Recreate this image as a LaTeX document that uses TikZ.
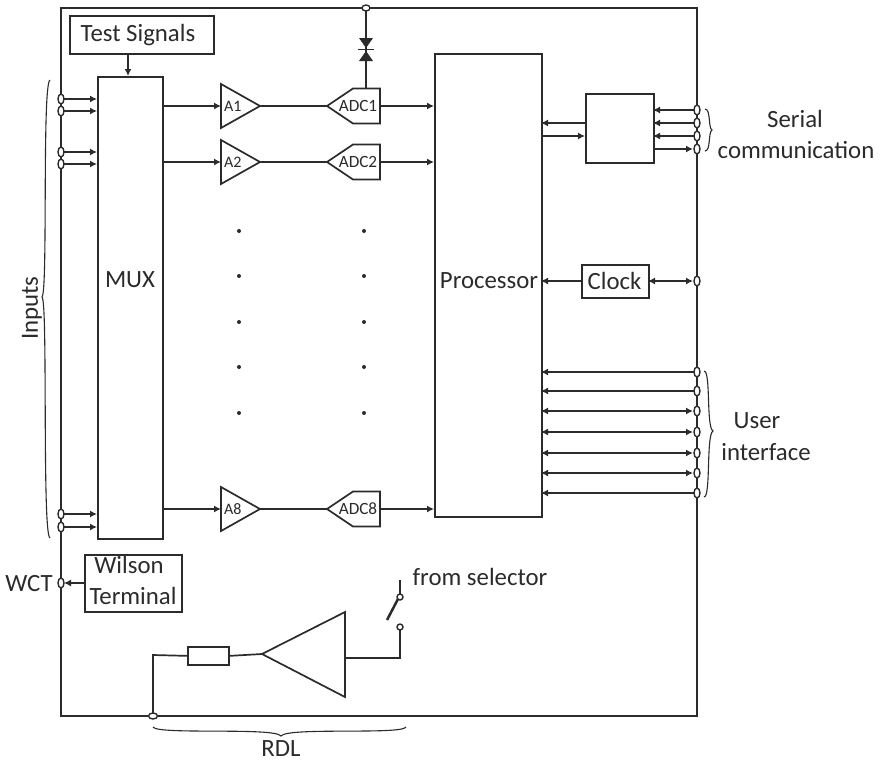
\documentclass[tikz,border=0pt]{standalone}
\usepackage{fontspec}
\setmainfont{Carlito}
\usetikzlibrary{arrows.meta,shapes.geometric}
\definecolor{ink}{HTML}{2B2B2B}
\tikzset{
  x=1pt,y=-1pt,
  wire/.style={draw=ink,line width=1.7pt},
  arr/.style={wire,-{Latex[length=7pt,width=7pt]}},
  darr/.style={wire,{Latex[length=7pt,width=7pt]}-{Latex[length=7pt,width=7pt]}},
  block/.style={draw=ink,line width=1.7pt,fill=white,inner sep=0pt,rectangle},
  term/.style={draw=ink,line width=1.4pt,fill=white,ellipse,inner sep=0pt},
  lbl/.style={text=ink,font=\fontsize{24.8}{30}\selectfont,align=center,inner sep=0pt},
  small/.style={text=ink,font=\fontsize{16}{18}\selectfont,inner sep=0pt},
  adclbl/.style={text=ink,font=\fontsize{17.2}{18}\selectfont,inner sep=0pt},
}
\begin{document}
\begin{tikzpicture}
\useasboundingbox (0,0) rectangle (882,761);
\fill[white] (0,0) rectangle (882,761);
% frame
\coordinate (fTL) at (61,8); \coordinate (fBR) at (697,716);
\draw[wire] (fTL) rectangle (fBR);
% blocks
\node[block,anchor=north west,minimum width=144pt,minimum height=38pt] (test) at (69,15) {};
\node[lbl] at (138,35) {Test Signals};
\node[block,anchor=north west,minimum width=65pt,minimum height=462pt] (mux) at (97,76) {};
\node[lbl] at (130,280) {MUX};
\node[block,anchor=north west,minimum width=107pt,minimum height=463pt] (proc) at (434,53) {};
\node[lbl] at (489,281) {Processor};
\node[block,anchor=north west,minimum width=68pt,minimum height=69pt] (ser) at (585,93) {};
\node[block,anchor=north west,minimum width=67pt,minimum height=33pt] (clock) at (581,264) {};
\node[lbl] at (614.5,280.5) {Clock};
\node[block,anchor=north west,minimum width=97pt,minimum height=57pt] (wil) at (84,554) {};
\node[lbl] at (129,565) {Wilson};
\node[lbl] at (133,596) {Terminal};
\draw[arr] (128,53) -- (128,76);
% channels
\foreach \n/\y in {1/106,2/162,8/509}{
  \draw[arr] (162,\y) -- (221,\y);
  \draw[wire,fill=white] (221,\y-22) -- (260,\y) -- (221,\y+22) -- cycle;
  \node[small,anchor=west] at (224,\y) {A\n};
  \draw[wire] (260,\y) -- (327,\y);
  \draw[wire,fill=white] (327,\y) -- (353,\y-17.5) -- (380,\y-17.5) -- (380,\y+17.5) -- (353,\y+17.5) -- cycle;
  \node[adclbl] at (358,\y) {ADC\n};
  \draw[arr] (380,\y) -- (434,\y);
}
% dots
\foreach \x in {239,364}\foreach \y in {231,276,322,367,413}{\fill[ink] (\x,\y) circle (2pt);}
% inputs
\foreach \y in {99,111,152,164,514,527}{
  \draw[arr] (61,\y) -- (97,\y);
  \node[term,minimum width=6pt,minimum height=10pt] at (61,\y) {};
}
% diode
\draw[wire] (366,8) -- (366,89);
\fill[ink] (359,38) -- (373,38) -- (366,48) -- cycle;
\fill[ink] (359,61) -- (373,61) -- (366,51) -- cycle;
\draw[ink,line width=0.8pt] (358,49.5) -- (374,49.5);
\node[term,minimum width=8pt,minimum height=6pt] at (366,8) {};
% serial
\draw[arr] (585,123) -- (541,123);
\draw[arr] (541,136) -- (585,136);
\foreach \y in {110,123,136}{\draw[arr] (697,\y) -- (653,\y);}
\draw[arr] (653,149) -- (693,149);
\foreach \y in {110,123,136,149}{\node[term,minimum width=6pt,minimum height=10pt] at (697,\y) {};}
\draw[ink,line width=1.1pt] (705,109) .. controls (711,109) and (708,128) .. (712,130) .. controls (708,132) and (711,151) .. (705,151);
\node[lbl] at (795,119) {Serial};
\node[lbl] at (796,150) {communication};
% clock
\draw[arr] (581,281) -- (541,281);
\draw[darr] (648,281) -- (693,281);
\node[term,minimum width=6pt,minimum height=10pt] at (697,281) {};
% user interface
\foreach \y in {372,391,493}{\draw[arr] (694,\y) -- (541,\y);}
\foreach \y in {411,432,453,473}{\draw[darr] (541,\y) -- (693,\y);}
\foreach \y in {372,391,411,432,453,473,493}{\node[term,minimum width=6pt,minimum height=10pt] at (697,\y) {};}
\draw[ink,line width=1.1pt] (704,371) .. controls (711,371) and (706,427) .. (713,431) .. controls (706,435) and (711,497) .. (704,497);
\node[lbl] at (757,421) {User};
\node[lbl] at (766,452) {interface};
% inputs brace and label
\draw[ink,line width=1.1pt] (50,80) .. controls (42,84) and (48,292) .. (42,297) .. controls (48,302) and (42,534) .. (50,538);
\node[lbl,rotate=90] at (32,308) {Inputs};
% WCT
\draw[arr] (84,583) -- (64,583);
\node[term,minimum width=6pt,minimum height=10pt] at (61,583) {};
\node[lbl] at (29,584) {WCT};
% RDL circuit
\node[block,anchor=north west,minimum width=41pt,minimum height=18pt] (res) at (187,646) {};
\draw[wire,fill=white] (262,654) -- (345,612) -- (345,697) -- cycle;
\draw[wire] (res.west) -- (153,655) -- (153,716);
\draw[wire] (res.east) -- (262,654);
\draw[wire] (345,658) -- (400,658) -- (400,630);
\draw[wire] (400,580) -- (400,594);
\draw[ink,line width=2.5pt] (387,620) -- (399,597);
\node[term,minimum width=6pt,minimum height=6pt] at (400,627) {};
\node[term,minimum width=6pt,minimum height=6pt] at (400,597) {};
\node[term,minimum width=9pt,minimum height=6pt] at (153,716) {};
\node[lbl] at (480,577) {from selector};
\draw[ink,line width=1.1pt] (153,727) .. controls (157,735) and (275,727) .. (281,736) .. controls (287,727) and (402,735) .. (406,727);
\node[lbl] at (281,749) {RDL};
\end{tikzpicture}
\end{document}
